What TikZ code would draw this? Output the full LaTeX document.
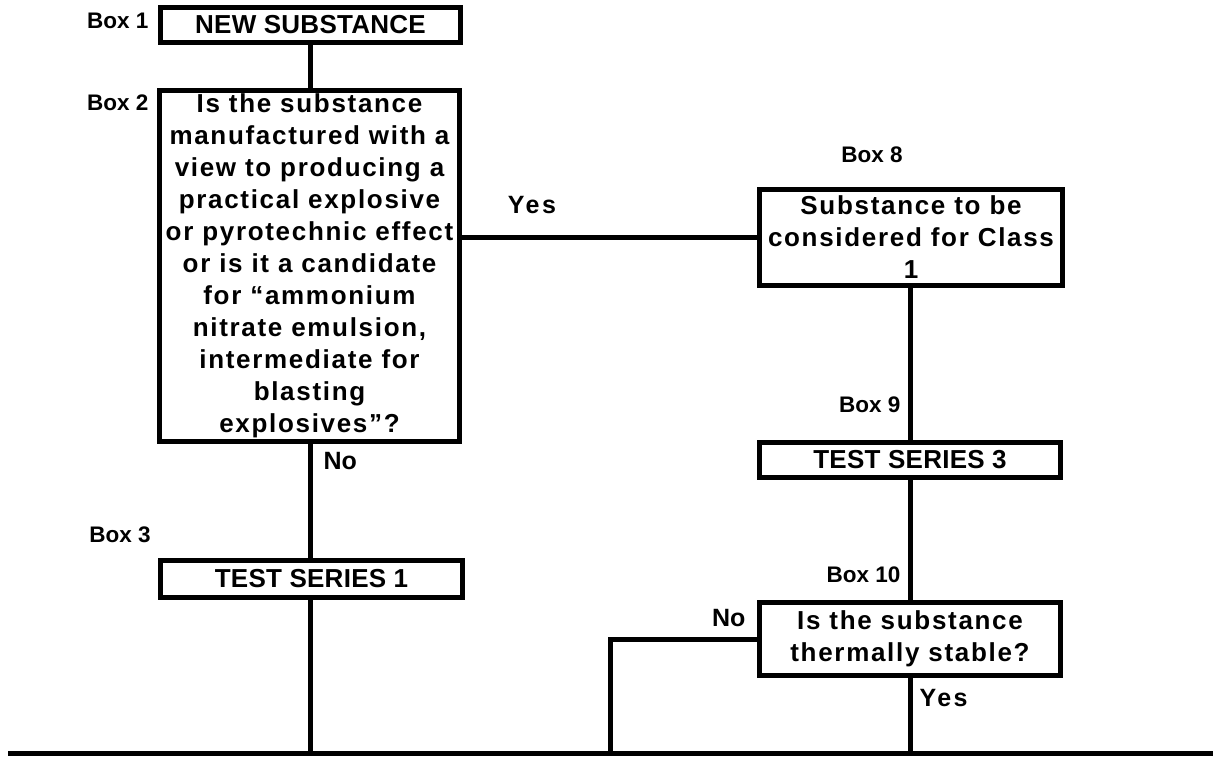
\documentclass[tikz,border=0pt]{standalone}
\usepackage{fontspec}
\setmainfont{Liberation Sans}
\newfontfamily\sentfont[LetterSpace=6.5]{Liberation Sans}
\newfontfamily\capfont[LetterSpace=1]{Liberation Sans}
\newfontfamily\ynfont[LetterSpace=10]{Liberation Sans}
\newfontfamily\lblfont{Liberation Sans}
\begin{document}
\begin{tikzpicture}[x=1pt,y=-1pt,
  line width=5pt,
  boxbase/.style={draw, rectangle, inner sep=0pt, line width=5pt, align=center},
  capbox/.style={boxbase, font={\capfont\bfseries\fontsize{26}{32}\selectfont}},
  sentbox/.style={boxbase, font={\sentfont\bfseries\fontsize{26}{32}\selectfont}},
  boxlabel/.style={inner sep=0pt, font={\lblfont\bfseries\fontsize{22.5}{24}\selectfont}},
  ynlabel/.style={inner sep=0pt, font={\ynfont\bfseries\fontsize{25}{26}\selectfont}},
  nolabel/.style={inner sep=0pt, font={\lblfont\bfseries\fontsize{25}{26}\selectfont}},
  conn/.style={line width=5pt}]
\useasboundingbox (0,0) rectangle (1213,756);
% boxes
\node[capbox, minimum width=300pt, minimum height=35pt] (b1) at (310.5,25) {NEW SUBSTANCE};
\node[sentbox, minimum width=300pt, minimum height=351pt] (b2) at (309.5,265.5) {Is the substance\\manufactured with a\\view to producing a\\practical explosive\\or pyrotechnic effect\\or is it a candidate\\for “ammonium\\nitrate emulsion,\\intermediate for\\blasting\\explosives”?};
\node[sentbox, minimum width=303pt, minimum height=96pt] (b8) at (911,237.5) {Substance to be\\considered for Class\\1};
\node[capbox, minimum width=302pt, minimum height=37pt] (b3) at (311.5,579) {TEST SERIES 1};
\node[capbox, minimum width=301pt, minimum height=35pt] (b9) at (910,460) {TEST SERIES 3};
\node[sentbox, minimum width=301pt, minimum height=73pt] (b10) at (910,639) {Is the substance\\thermally stable?};
% box labels
\node[boxlabel, anchor=east] (l1) at (151,21) {Box 1};
\node[boxlabel, anchor=east] (l2) at (151,103) {Box 2};
\node[boxlabel] (l3) at (120,535) {Box 3};
\node[boxlabel] (l8) at (872,155) {Box 8};
\node[boxlabel, anchor=east] (l9) at (903,405) {Box 9};
\node[boxlabel, anchor=east] (l10) at (903,575) {Box 10};
% yes/no labels
\node[ynlabel] (yes1) at (532,205) {Yes};
\node[nolabel, anchor=west] (no1) at (321,461) {No};
\node[nolabel, anchor=east] (no2) at (748,618) {No};
\node[ynlabel, anchor=west] (yes2) at (917,698) {Yes};
% coordinates
\coordinate (bl) at (8,753);
\coordinate (br) at (1213,753);
\coordinate (c3) at (310,753);
\coordinate (c10) at (910,753);
\coordinate (cno) at (610,639);
\coordinate (cnob) at (610,753);
% connectors
\draw[conn] (b1.south -| c3) -- (b2.north -| c3);
\draw[conn] (b8.west -| b2.east) -- (b8.west);
\draw[conn] (b2.south -| c3) -- (b3.north -| c3);
\draw[conn] (b8.south -| c10) -- (b9.north -| c10);
\draw[conn] (b9.south) -- (b10.north);
\draw[conn] (b3.south -| c3) -- (c3);
\draw[conn] (b10.south) -- (c10);
\draw[conn] (b10.west) -- (cno) -- (cnob);
\draw[conn] (bl) -- (br);
\end{tikzpicture}
\end{document}
